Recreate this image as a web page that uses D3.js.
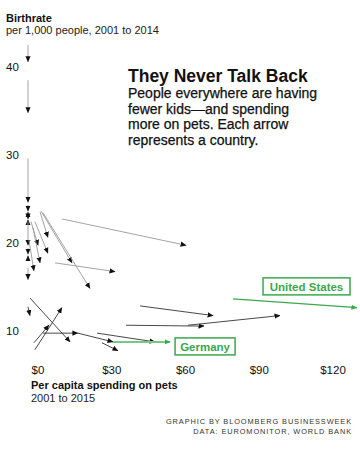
<!DOCTYPE html>
<html><head><meta charset="utf-8">
<script src="https://cdn.jsdelivr.net/npm/d3@7"></script>
<style>
html,body{margin:0;padding:0;background:#fff;}
svg{display:block;font-family:"Liberation Sans",Arial,sans-serif;}
</style></head>
<body>
<svg id="c" width="360" height="449"></svg>
<script>
// Per-capita pet spending ($) at start (2001) and end (2015)
const spendStart = [0,0,0,0,0,0,0,0,1.2,2.8,4.9,5.3,6.1,13.8,11.0,0,0,2.0,0.4,0,0,0.8,2.8,2.4,6.1,20.3,28.1,34.6,30.1,45.6,39.9,65.1,83.4];
const spendEnd   = [0,0,0,0,0,0,0,0,4.1,8.1,8.1,17.9,25.2,64.3,35.4,0,0,4.9,2.4,0,0.8,17.1,13.8,8.5,20.3,34.6,51.7,57.8,36.6,75.3,71.6,102.5,133.8];
// Birthrate per 1,000 people at start (2001) and end (2014)
const birthStart = [42.5,38.5,29.6,24.3,22.9,23.4,22.1,22.4,22.4,22.4,23.5,23.6,23.4,22.7,17.7,19.4,17.9,21.7,20.3,17.1,12.7,13.7,7.8,8.6,9.7,9.7,9.7,8.7,8.6,12.8,10.6,10.6,13.6];
const birthEnd   = [40.6,34.8,24.6,23.6,23.5,22.7,22.6,19.7,19.7,18.8,20.6,17.7,14.8,19.7,16.7,18.7,18.5,17.7,16.8,15.8,11.7,8.7,12.6,10.6,9.7,8.7,8.7,8.7,7.7,11.7,10.5,11.7,12.6];
// Highlighted countries (index -> name)
const highlightIdx = [27, 32];
const highlightNames = ["Germany", "United States"];

const xTicks = [0, 30, 60, 90, 120];
const xTickLabels = ["$0", "$30", "$60", "$90", "$120"];
const yTicks = [10, 20, 30, 40];
const yTickLabels = ["10", "20", "30", "40"];

const subtitleLines = ["People everywhere are having", "fewer kids\u2014and spending", "more on pets. Each arrow", "represents a country."];

const svg = d3.select("#c");
const x = d3.scaleLinear().domain([0, 120]).range([28, 323]);
const y = d3.scaleLinear().domain([10, 40]).range([330.5, 67]);

const GREEN = "#3aa94c";
const GREEN_LINE = "#76c983";

const defs = svg.append("defs");
function marker(id, color) {
  defs.append("marker").attr("id", id)
    .attr("viewBox", "0 -3 6 6").attr("refX", 5.5).attr("refY", 0)
    .attr("markerWidth", 6).attr("markerHeight", 6)
    .attr("markerUnits", "userSpaceOnUse").attr("orient", "auto")
    .append("path").attr("d", "M0,-2.6L6,0L0,2.6Z").attr("fill", color);
}
marker("hb", "#111");
marker("hg", GREEN);

// Header texts
svg.append("text").attr("x", 6).attr("y", 21.5).attr("font-size", 11).attr("font-weight", "bold").attr("fill", "#111").text("Birthrate");
svg.append("text").attr("x", 6).attr("y", 33.5).attr("font-size", 11).attr("fill", "#222").text("per 1,000 people, 2001 to 2014");

svg.append("text").attr("x", 128).attr("y", 81.5).attr("font-size", 17.5).attr("font-weight", "bold").attr("fill", "#111").text("They Never Talk Back");
svg.append("g").selectAll("text").data(subtitleLines).join("text")
  .attr("x", 128).attr("y", (d, i) => 97.7 + i * 15.8)
  .attr("font-size", 14).attr("fill", "#111").attr("stroke", "#111").attr("stroke-width", 0.25)
  .text(d => d);

// Y tick labels
svg.append("g").selectAll("text").data(yTicks).join("text")
  .attr("x", 6).attr("y", d => y(d) + 4)
  .attr("font-size", 11.5).attr("fill", "#111")
  .text((d, i) => yTickLabels[i]);

// X tick labels
svg.append("g").selectAll("text").data(xTicks).join("text")
  .attr("x", d => x(d) + 10).attr("y", 373.5)
  .attr("text-anchor", "middle").attr("font-size", 11.5).attr("fill", "#111")
  .text((d, i) => xTickLabels[i]);

// Arrows
const idx = d3.range(spendStart.length);
const normal = idx.filter(i => !highlightIdx.includes(i));
svg.append("g").selectAll("line").data(normal).join("line")
  .attr("x1", i => x(spendStart[i])).attr("y1", i => y(birthStart[i]))
  .attr("x2", i => x(spendEnd[i])).attr("y2", i => y(birthEnd[i]))
  .attr("stroke", i => birthStart[i] >= 14 ? "#9a9a9a" : "#333")
  .attr("stroke-width", 0.9)
  .attr("marker-end", "url(#hb)");

svg.append("g").selectAll("line").data(highlightIdx).join("line")
  .attr("x1", i => x(spendStart[i])).attr("y1", i => y(birthStart[i]))
  .attr("x2", i => x(spendEnd[i])).attr("y2", i => y(birthEnd[i]))
  .attr("stroke", (i, k) => k === 0 ? GREEN_LINE : GREEN)
  .attr("stroke-width", (i, k) => k === 0 ? 2 : 1.3)
  .attr("marker-end", "url(#hg)");

// Highlight labels
function label(i, name, bx, by, w) {
  const g = svg.append("g");
  g.append("rect").attr("x", bx).attr("y", by).attr("width", w).attr("height", 17)
    .attr("fill", "#fff").attr("stroke", GREEN).attr("stroke-width", 1.5);
  g.append("text").attr("x", bx + w / 2).attr("y", by + 12.8).attr("text-anchor", "middle")
    .attr("font-size", 11.5).attr("font-weight", "bold").attr("fill", GREEN).text(name);
}
{
  const g = highlightIdx[0];
  label(g, highlightNames[0], x(spendEnd[g]) + 5, y(birthEnd[g]) - 4, 60);
  const u = highlightIdx[1];
  label(u, highlightNames[1], x(spendStart[u]) + 30, y(birthStart[u]) - 21, 87);
}

// Footer
svg.append("text").attr("x", 31).attr("y", 389).attr("font-size", 11).attr("font-weight", "bold").attr("fill", "#111").text("Per capita spending on pets");
svg.append("text").attr("x", 31).attr("y", 402).attr("font-size", 11).attr("fill", "#222").text("2001 to 2015");
svg.append("text").attr("x", 352).attr("y", 424.3).attr("text-anchor", "end").attr("font-size", 7.4).attr("letter-spacing", 0.9).attr("fill", "#333").text("GRAPHIC BY BLOOMBERG BUSINESSWEEK");
svg.append("text").attr("x", 352).attr("y", 433.5).attr("text-anchor", "end").attr("font-size", 7.4).attr("letter-spacing", 0.9).attr("fill", "#333").text("DATA: EUROMONITOR, WORLD BANK");
</script>
</body></html>
